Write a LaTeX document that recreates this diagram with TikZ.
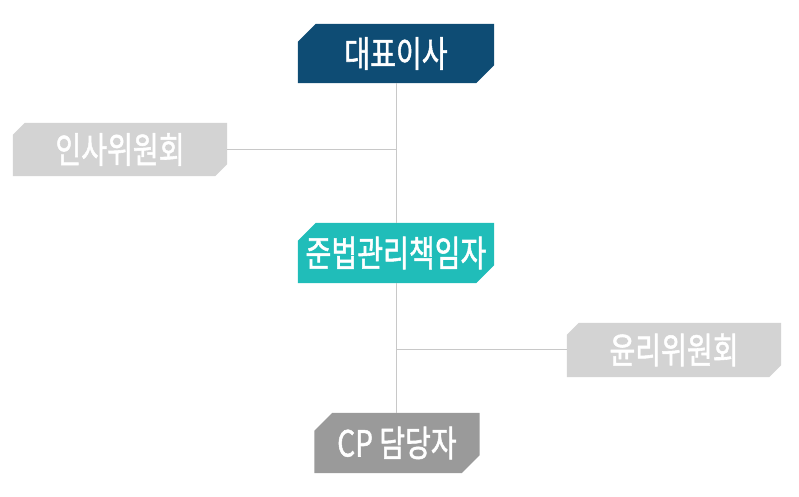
\documentclass[tikz,border=0pt]{standalone}
\usepackage{fontspec}
\usepackage{graphicx}
\setmainfont{Noto Sans CJK KR}
\newfontfamily\krmedium[FakeBold=1.6]{Noto Sans CJK KR}
\usetikzlibrary{backgrounds,calc}
\definecolor{ceoblue}{HTML}{0E4C74}
\definecolor{ccoteal}{HTML}{20BDB9}
\definecolor{lightbox}{HTML}{D3D3D3}
\definecolor{cpgray}{HTML}{9A9A9A}
\definecolor{linegray}{HTML}{C8C8C8}
\newcommand{\boxlabel}[1]{\scalebox{0.78}[1]{#1}}
\newcommand{\cutfill}[3]{%
  \begin{pgfonlayer}{background}
  \fill[#2] ($(#1.north west)+(#3,0)$) -- (#1.north east) -- ($(#1.south east)+(0,#3)$)
    -- ($(#1.south east)+(-#3,0)$) -- (#1.south west) -- ($(#1.north west)+(0,-#3)$) -- cycle;
  \end{pgfonlayer}}
\tikzset{
  orgbox/.style={rectangle, inner sep=0pt, text=white, font=\fontsize{36pt}{36pt}\krmedium},
  orgline/.style={draw=linegray, line width=1pt}
}
\begin{document}
\begin{tikzpicture}[x=1pt,y=1pt]
\useasboundingbox (0,0) rectangle (799,497);
\node[orgbox, minimum width=196pt, minimum height=59pt] (ceo) at (396,443.5) {\boxlabel{대표이사}};
\node[orgbox, minimum width=214pt, minimum height=53pt] (hr) at (120,347.5) {\boxlabel{인사위원회}};
\node[orgbox, minimum width=196pt, minimum height=60pt] (cco) at (396,244) {\boxlabel{준법관리책임자}};
\node[orgbox, minimum width=214pt, minimum height=54pt] (eth) at (674,147) {\boxlabel{윤리위원회}};
\node[orgbox, minimum width=165pt, minimum height=60pt] (cp) at (397,54) {\boxlabel{CP 담당자}};
\cutfill{ceo}{ceoblue}{18}
\cutfill{hr}{lightbox}{12}
\cutfill{cco}{ccoteal}{18}
\cutfill{eth}{lightbox}{12}
\cutfill{cp}{cpgray}{18}
\draw[orgline] (ceo.south) -- (cco.north);
\draw[orgline] (cco.south) -- (cco.south |- cp.north);
\draw[orgline] (hr.east) -- (hr.east -| ceo.south);
\draw[orgline] (eth.west) -- (eth.west -| cco.south);
\end{tikzpicture}
\end{document}
